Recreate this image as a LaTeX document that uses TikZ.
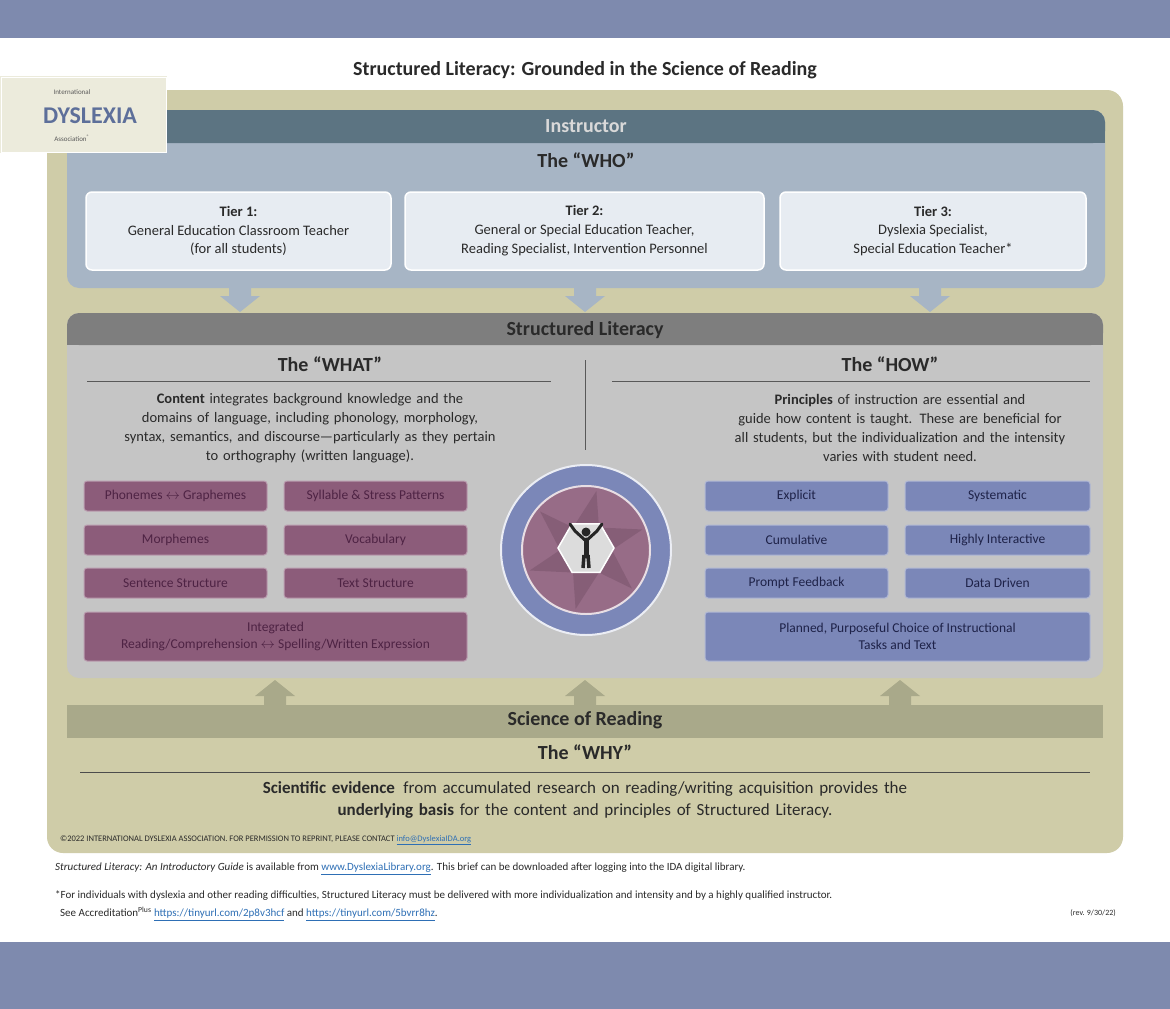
\documentclass[tikz,border=0pt]{standalone}
\usepackage{fontspec}
\setmainfont{Carlito}
\usetikzlibrary{shapes.geometric,calc}
\definecolor{band}{HTML}{7E8AAE}
\definecolor{tan}{HTML}{CFCCA8}
\definecolor{slate}{HTML}{5C7482}
\definecolor{whop}{HTML}{A7B5C5}
\definecolor{tierf}{HTML}{E7ECF2}
\definecolor{slh}{HTML}{7E7E7E}
\definecolor{slp}{HTML}{C5C5C5}
\definecolor{purp}{HTML}{8C5C7A}
\definecolor{purpt}{HTML}{4E2344}
\definecolor{blu}{HTML}{7B87B8}
\definecolor{blut}{HTML}{1E2248}
\definecolor{olive}{HTML}{A9A98A}
\definecolor{txt}{HTML}{2A2A2A}
\definecolor{link}{HTML}{2E6FB5}
\definecolor{logo}{HTML}{5D6F9A}
\tikzset{x=1pt,y=-1pt,
 fs/.code={\pgfmathsetmacro\bls{#1*1.3}\edef\tmp{\noexpand\tikzset{font=\noexpand\fontsize{#1pt}{\bls pt}\noexpand\selectfont}}\tmp},
 tier/.style={draw=white,line width=1.5pt,fill=tierf,rounded corners=6pt,align=center,fs=14.5,text=txt},
 pb/.style={draw=purp!60!white,line width=1pt,fill=purp,rounded corners=3pt,align=center,fs=13.5,text=purpt},
 bb/.style={draw=blu!60!white,line width=1pt,fill=blu,rounded corners=3pt,align=center,fs=13.5,text=blut},
 hd/.style={font=\bfseries\fontsize{20pt}{24pt}\selectfont,text=txt},
 body/.style={fs=14.5,align=center,text=txt}}
\begin{document}
\begin{tikzpicture}
\useasboundingbox (0,0) rectangle (1170,1009);
\fill[white] (0,0) rectangle (1170,1009);
\fill[band] (0,0) rectangle (1170,38);
\fill[band] (0,942) rectangle (1170,1009);
\node[font=\bfseries\fontsize{20pt}{24pt}\selectfont,text=txt] (title) at (585,70) {Structured Literacy: Grounded in the Science of Reading};
\fill[tan,rounded corners=16pt] (47,90) rectangle (1123,853);
% down arrows
\foreach \c in {240,585,930}{\fill[whop] (\c-11,286) -- (\c+11,286) -- (\c+11,296) -- (\c+20,296) -- (\c,312) -- (\c-20,296) -- (\c-11,296) -- cycle;}
% up arrows
\foreach \c in {275,585,900}{\fill[olive] (\c-11,707) -- (\c+11,707) -- (\c+11,696) -- (\c+20,696) -- (\c,680) -- (\c-20,696) -- (\c-11,696) -- cycle;}
% WHO
\fill[whop,rounded corners=12pt] (67,110) rectangle (1105,288);
\fill[slate,rounded corners=12pt] (67,110) rectangle (1105,143);
\fill[slate] (67,130) rectangle (1105,143);
\node[font=\bfseries\fontsize{20pt}{24pt}\selectfont,text=gray!30] (instr) at (586,126) {Instructor};
\node[hd] (who) at (586,160) {The “WHO”};
\node[tier,minimum width=305pt,minimum height=78pt] (t1) at (238.5,231) {\textbf{Tier 1:}\\General Education Classroom Teacher\\(for all students)};
\node[tier,minimum width=359pt,minimum height=78pt] (t2) at (584.5,231) {\textbf{Tier 2:}\\General or Special Education Teacher,\\Reading Specialist, Intervention Personnel};
\node[tier,minimum width=306pt,minimum height=78pt] (t3) at (933,231) {\textbf{Tier 3:}\\Dyslexia Specialist,\\Special Education Teacher*};
% Structured literacy
\fill[slp,rounded corners=12pt] (67,313) rectangle (1103,678);
\fill[slh,rounded corners=12pt] (67,313) rectangle (1103,345);
\fill[slh] (67,333) rectangle (1103,345);
\node[hd] (sl) at (585,330) {Structured Literacy};
\node[hd] (what) at (330,364) {The “WHAT”};
\node[hd] (how) at (890,364) {The “HOW”};
\draw[gray!70!black,line width=0.8pt] (87,381) -- (551,381);
\draw[gray!70!black,line width=0.8pt] (612,381) -- (1090,381);
\draw[gray!70!black,line width=0.8pt] (585,360) -- (585,450);
\node[body,text width=460pt] (wt) at (310,428) {\textbf{Content} integrates background knowledge and the\\domains of language, including phonology, morphology,\\syntax, semantics, and discourse—particularly as they pertain\\to orthography (written language).};
\node[body,text width=440pt] (ht) at (900,428) {\textbf{Principles} of instruction are essential and\\guide how content is taught. These are beneficial for\\all students, but the individualization and the intensity\\varies with student need.};
\node[pb,minimum width=183pt,minimum height=30pt] (p1) at (175.5,496) {Phonemes $\leftrightarrow$ Graphemes};
\node[pb,minimum width=183pt,minimum height=30pt] (p2) at (375.5,496) {Syllable \& Stress Patterns};
\node[pb,minimum width=183pt,minimum height=30pt] (p3) at (175.5,540) {Morphemes};
\node[pb,minimum width=183pt,minimum height=30pt] (p4) at (375.5,540) {Vocabulary};
\node[pb,minimum width=183pt,minimum height=30pt] (p5) at (175.5,583) {Sentence Structure};
\node[pb,minimum width=183pt,minimum height=30pt] (p6) at (375.5,583) {Text Structure};
\node[pb,minimum width=383pt,minimum height=49pt] (p7) at (275.5,636.5) {Integrated\\Reading/Comprehension $\leftrightarrow$ Spelling/Written Expression};
\node[bb,minimum width=183pt,minimum height=30pt] (b1) at (796.5,496) {Explicit};
\node[bb,minimum width=185pt,minimum height=30pt] (b2) at (997.5,496) {Systematic};
\node[bb,minimum width=183pt,minimum height=30pt] (b3) at (796.5,540) {Cumulative};
\node[bb,minimum width=185pt,minimum height=30pt] (b4) at (997.5,540) {Highly Interactive};
\node[bb,minimum width=183pt,minimum height=30pt] (b5) at (796.5,583) {Prompt Feedback};
\node[bb,minimum width=185pt,minimum height=30pt] (b6) at (997.5,583) {Data Driven};
\node[bb,minimum width=385pt,minimum height=49pt] (b7) at (897.5,636.5) {Planned, Purposeful Choice of Instructional\\Tasks and Text};
% circle
\node[circle,fill=blu,draw=white!85!blu,line width=2pt,minimum size=170pt] (co) at (586,550) {};
\node[circle,fill=purp!90!white,draw=white!80!purp,line width=2pt,minimum size=128pt] (ci) at (586,550) {};
\foreach \a in {0,60,...,300}{\fill[purp!75!black,opacity=0.35] ($(586,550)+(\a:26)$) -- ($(586,550)+(\a+60:26)$) -- ($(586,550)+(\a+40:60)$) -- cycle;}
\node[regular polygon,regular polygon sides=6,fill=slp!60!white,draw=white,line width=1.5pt,minimum size=56pt] (hex) at (586,548) {};
\fill[black!85] (586,532) circle (4.5pt);
\draw[black!85,line width=5pt,line cap=round] (586,540) -- (586,556);
\draw[black!85,line width=3pt,line cap=round] (586,541) -- (575,531) -- (570,524) (586,541) -- (597,531) -- (602,524);
\draw[black!85,line width=3.5pt] (584,555) -- (583,568) (588,555) -- (589,568);
% Science of reading
\fill[olive] (67,705) rectangle (1103,738);
\node[hd] (sor) at (585,720) {Science of Reading};
\node[hd] (why) at (585,752) {The “WHY”};
\draw[gray!60!black,line width=0.8pt] (80,772) -- (1090,772);
\node[body,fs=17,text width=800pt] (wyt) at (585,800) {\textbf{Scientific evidence}\, from accumulated research on reading/writing acquisition provides the\\\textbf{underlying basis} for the content and principles of Structured Literacy.};
\node[anchor=west,fs=8.5,text=txt,inner sep=0] (cr) at (60,840) {©2022 INTERNATIONAL DYSLEXIA ASSOCIATION. FOR PERMISSION TO REPRINT, PLEASE CONTACT \textcolor{link}{\underline{info@DyslexiaIDA.org}}};
% footnotes
\node[anchor=west,fs=11,text=txt,inner sep=0] (f1) at (55,869) {\textit{Structured Literacy: An Introductory Guide} is available from \textcolor{link}{\underline{www.DyslexiaLibrary.org}}. This brief can be downloaded after logging into the IDA digital library.};
\node[anchor=west,fs=11,text=txt,inner sep=0] (f2) at (55,896) {*For individuals with dyslexia and other reading difficulties, Structured Literacy must be delivered with more individualization and intensity and by a highly qualified instructor.};
\node[anchor=west,fs=11,text=txt,inner sep=0] (f3) at (60,914) {See Accreditation\textsuperscript{Plus} \textcolor{link}{\underline{https://tinyurl.com/2p8v3hcf}} and \textcolor{link}{\underline{https://tinyurl.com/5bvrr8hz}}.};
\node[anchor=east,fs=8,text=txt,inner sep=0] (rev) at (1116,913) {(rev. 9/30/22)};
% logo
\fill[white!60!tan] (0,76) rectangle (167,153);
\draw[white,line width=1pt] (1,77) rectangle (166,152);
\node[fs=7,text=gray!70!black] (l1) at (72,92) {International};
\node[font=\bfseries\fontsize{24pt}{28pt}\selectfont,text=logo] (l2) at (90,116) {DYSLEXIA};
\node[fs=7,text=gray!70!black] (l3) at (72,138) {Association\textsuperscript{®}};
\end{tikzpicture}
\end{document}
